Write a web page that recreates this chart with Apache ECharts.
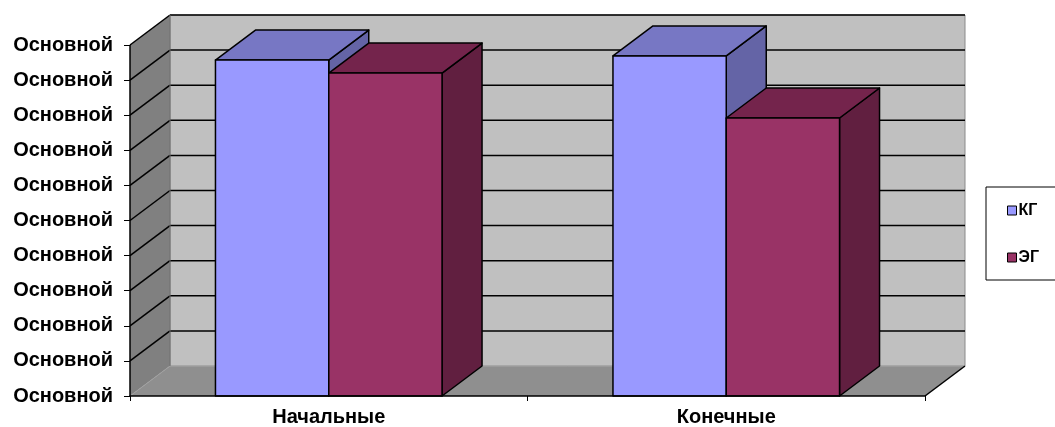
<!DOCTYPE html>
<html><head><meta charset="utf-8">
<script src="https://cdn.jsdelivr.net/npm/echarts@6/dist/echarts.min.js"></script>
<style>html,body{margin:0;padding:0;background:#fff}#c{width:1055px;height:427px}</style>
</head><body><div id="c"></div>
<script>
var categories = ['Начальные', 'Конечные'];
var seriesNames = ['КГ', 'ЭГ'];
var kgValues = [95.7, 96.9];
var egValues = [92.0, 79.2];
var yTickLabels = ['Основной','Основной','Основной','Основной','Основной','Основной','Основной','Основной','Основной','Основной','Основной'];
var yMin = 0, yMax = 100, yStep = 10;

var DX = 40, DY = -30;
var FONT = '"Liberation Sans", Arial, sans-serif';
var palettes = [
  {front: '#9999FF', top: '#7777C4', side: '#6464A6'},
  {front: '#993366', top: '#74244C', side: '#611F40'}
];

function wallsRender(params, api) {
  var cs = params.coordSys;
  var x0 = cs.x, x1 = cs.x + cs.width;
  var yb = api.coord([0, yMin])[1], yt = api.coord([0, yMax])[1];
  var ch = [];
  ch.push({type: 'polygon', shape: {points: [[x0+DX, yt+DY],[x1+DX, yt+DY],[x1+DX, yb+DY],[x0+DX, yb+DY]]},
    style: {fill: '#C0C0C0', stroke: '#8a8a8a', lineWidth: 1}});
  ch.push({type: 'polygon', shape: {points: [[x0, yt],[x0+DX, yt+DY],[x0+DX, yb+DY],[x0, yb]]},
    style: {fill: '#808080', stroke: null}});
  ch.push({type: 'polygon', shape: {points: [[x0, yb],[x0+DX, yb+DY],[x1+DX, yb+DY],[x1, yb]]},
    style: {fill: '#8F8F8F', stroke: null}});
  for (var v = yMin; v <= yMax + 1e-9; v += yStep) {
    var y = api.coord([0, v])[1];
    if (v > yMin) {
      ch.push({type: 'line', shape: {x1: x0, y1: y, x2: x0+DX, y2: y+DY}, style: {stroke: '#000', lineWidth: 1.5}});
      ch.push({type: 'line', shape: {x1: x0+DX, y1: y+DY, x2: x1+DX, y2: y+DY}, style: {stroke: '#000', lineWidth: 1.5}});
    } else {
      ch.push({type: 'line', shape: {x1: x0, y1: y, x2: x0+DX, y2: y+DY}, style: {stroke: '#a0a0a0', lineWidth: 1}});
      ch.push({type: 'line', shape: {x1: x0+DX, y1: y+DY, x2: x1+DX, y2: y+DY}, style: {stroke: '#a8a8a8', lineWidth: 1}});
    }
  }
  ch.push({type: 'line', shape: {x1: x1, y1: yb, x2: x1+DX, y2: yb+DY}, style: {stroke: '#000', lineWidth: 1.5}});
  ch.push({type: 'line', shape: {x1: x0+DX, y1: yt+DY, x2: x0+DX, y2: yb+DY}, style: {stroke: '#707070', lineWidth: 1}});
  ch.push({type: 'line', shape: {x1: x0, y1: yt, x2: x0, y2: yb}, style: {stroke: '#000', lineWidth: 1.5}});
  return {type: 'group', children: ch};
}

function makeBarRender(idx) {
  return function (params, api) {
    var cat = api.value(0), val = api.value(1);
    var base = api.coord([cat, yMin]);
    var top = api.coord([cat, val]);
    var band = api.size([1, 0])[0];
    var w = band * 0.285;
    var xl = base[0] + (idx === 0 ? -w : 0);
    var xr = xl + w;
    var yb = base[1], yt = top[1];
    var p = palettes[idx];
    var st = {stroke: '#000', lineWidth: 1.5, lineJoin: 'round'};
    return {type: 'group', children: [
      {type: 'polygon', shape: {points: [[xr, yb],[xr+DX, yb+DY],[xr+DX, yt+DY],[xr, yt]]}, style: Object.assign({fill: p.side}, st)},
      {type: 'polygon', shape: {points: [[xl, yt],[xl+DX, yt+DY],[xr+DX, yt+DY],[xr, yt]]}, style: Object.assign({fill: p.top}, st)},
      {type: 'rect', shape: {x: xl, y: yt, width: w, height: yb - yt}, style: Object.assign({fill: p.front}, st)}
    ]};
  };
}

var chart = echarts.init(document.getElementById('c'));
chart.setOption({
  animation: false,
  backgroundColor: '#fff',
  grid: {left: 130, right: 130, top: 45, bottom: 31},
  legend: {
    orient: 'vertical', left: 986, top: 187,
    data: seriesNames.map(function (n) { return {name: n, icon: 'rect'}; }),
    itemWidth: 9, itemHeight: 9, itemGap: 30,
    padding: [15, 40, 14, 21],
    borderColor: '#000', borderWidth: 1, backgroundColor: '#fff',
    textStyle: {fontFamily: FONT, fontWeight: 'bold', fontSize: 16, color: '#000', lineHeight: 17, padding: [0, 0, 0, -3]},
    itemStyle: {borderColor: '#000', borderWidth: 1}
  },
  xAxis: {
    type: 'category', data: categories,
    axisLine: {show: true, lineStyle: {color: '#000', width: 1.5}},
    axisTick: {show: true, length: 5, lineStyle: {color: '#000'}},
    axisLabel: {fontFamily: FONT, fontWeight: 'bold', fontSize: 20, color: '#000', margin: 11},
    splitLine: {show: false}, z: 10
  },
  yAxis: {
    type: 'value', min: yMin, max: yMax, interval: yStep,
    axisLine: {show: false},
    axisTick: {show: true, length: 6, lineStyle: {color: '#000'}},
    axisLabel: {fontFamily: FONT, fontWeight: 'bold', fontSize: 20, color: '#000', margin: 17,
      formatter: function (v) { return yTickLabels[Math.round((v - yMin) / yStep)]; }},
    splitLine: {show: false}
  },
  series: [
    {type: 'custom', name: '_walls', data: [[0, 0]], renderItem: wallsRender, silent: true, z: 1, clip: false},
    {type: 'custom', name: seriesNames[0], data: kgValues.map(function (v, i) { return [i, v]; }),
      renderItem: makeBarRender(0), itemStyle: {color: palettes[0].front}, z: 2, clip: false},
    {type: 'custom', name: seriesNames[1], data: egValues.map(function (v, i) { return [i, v]; }),
      renderItem: makeBarRender(1), itemStyle: {color: palettes[1].front}, z: 3, clip: false}
  ]
});
</script></body></html>
